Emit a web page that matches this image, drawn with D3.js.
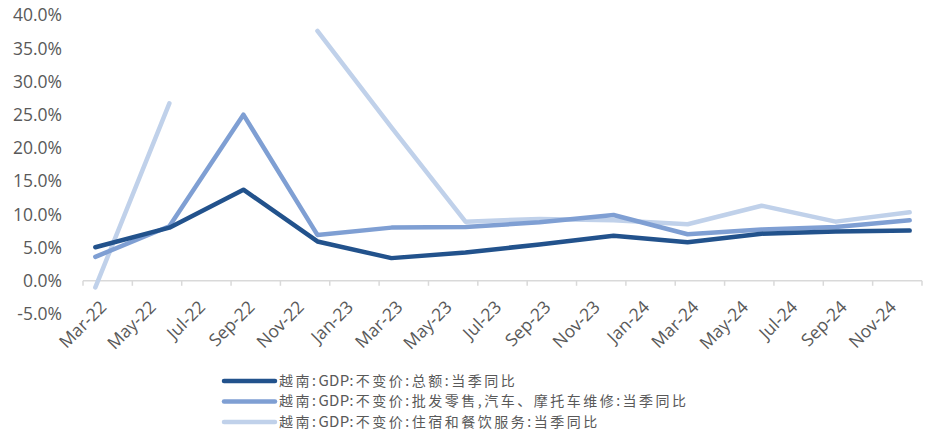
<!DOCTYPE html>
<html lang="zh">
<head>
<meta charset="utf-8">
<title>越南GDP当季同比</title>
<script src="https://d3js.org/d3.v7.min.js"></script>
<style>
  body { margin: 0; background: #fff; }
  svg text { fill: #595959; }
</style>
</head>
<body>
<div id="chart"></div>
<script>
// quarterly observations
const quarters = ["2022-03", "2022-06", "2022-09", "2022-12", "2023-03", "2023-06",
                  "2023-09", "2023-12", "2024-03", "2024-06", "2024-09", "2024-12"];
const seriesNames = [
  "越南:GDP:不变价:总额:当季同比",
  "越南:GDP:不变价:批发零售,汽车、摩托车维修:当季同比",
  "越南:GDP:不变价:住宿和餐饮服务:当季同比"
];
const gdpTotal = [5.05, 7.99, 13.71, 5.92, 3.41, 4.25, 5.47, 6.79, 5.80, 7.09, 7.43, 7.55];
const gdpTrade = [3.6, 8.2, 25.0, 6.9, 8.0, 8.1, 8.8, 9.9, 7.0, 7.7, 8.1, 9.1];
const gdpHotel = [-1.0, 26.7, null, 37.6, 23.1, 8.9, 9.3, 9.1, 8.5, 11.3, 8.9, 10.3];
const yTicks = [-5, 0, 5, 10, 15, 20, 25, 30, 35, 40];
const monthLabels = ["Mar-22", "May-22", "Jul-22", "Sep-22", "Nov-22", "Jan-23", "Mar-23", "May-23",
                     "Jul-23", "Sep-23", "Nov-23", "Jan-24", "Mar-24", "May-24", "Jul-24", "Sep-24", "Nov-24"];
const colors = ["#22528c", "#7f9fd3", "#c0d1ea"];

const width = 930, height = 434;
const x0 = 83, x1 = 922, yTop = 15, yBottom = 314;

const svg = d3.select("#chart").append("svg")
  .attr("width", width).attr("height", height);

// month index: Mar-22 = 0 ... Dec-24 = 33, axis covers 34 months
const monthIdx = s => {
  const [yy, mm] = s.split("-").map(Number);
  return (yy - 2022) * 12 + (mm - 3);
};
const x = d3.scaleLinear().domain([0, 34]).range([x0, x1]);
const y = d3.scaleLinear().domain([-5, 40]).range([yBottom, yTop]);

const font = "'Open Sans', sans-serif";

// y labels
svg.append("g")
  .selectAll("text")
  .data(yTicks)
  .join("text")
  .attr("x", 62)
  .attr("y", d => y(d))
  .attr("dy", "0.36em")
  .attr("text-anchor", "end")
  .style("font-family", font)
  .style("font-size", "17.5px")
  .text(d => d.toFixed(1) + "%");

// x axis line at 0%
const axisG = svg.append("g");
axisG.append("line")
  .attr("x1", x0).attr("x2", x1)
  .attr("y1", y(0)).attr("y2", y(0))
  .attr("stroke", "#d9d9d9").attr("stroke-width", 1.5);
axisG.selectAll("line.tick")
  .data(d3.range(0, 35, 2))
  .join("line")
  .attr("class", "tick")
  .attr("x1", d => x(d)).attr("x2", d => x(d))
  .attr("y1", y(0)).attr("y2", y(0) + 5)
  .attr("stroke", "#d9d9d9").attr("stroke-width", 1.5);

axisG.selectAll("text")
  .data(monthLabels)
  .join("text")
  .attr("text-anchor", "end")
  .attr("transform", (d, i) => `translate(${x(i * 2 + 0.5) + 8},${y(0) + 23}) rotate(-45)`)
  .attr("dy", "0.35em")
  .style("font-family", font)
  .style("font-size", "17.5px")
  .text(d => d);

// lines
const allSeries = [gdpTotal, gdpTrade, gdpHotel];
const line = d3.line()
  .defined(d => d.v !== null)
  .x(d => x(monthIdx(d.q) + 0.5))
  .y(d => y(d.v));

// draw light first so dark sits on top
[2, 1, 0].forEach(k => {
  const pts = quarters.map((q, i) => ({ q, v: allSeries[k][i] }));
  svg.append("path")
    .datum(pts)
    .attr("fill", "none")
    .attr("stroke", colors[k])
    .attr("stroke-width", 4.5)
    .attr("stroke-linejoin", "round")
    .attr("stroke-linecap", "round")
    .attr("d", line);
});

// legend
const legend = svg.append("g");
seriesNames.forEach((name, i) => {
  const ly = 381 + i * 20.5;
  legend.append("line")
    .attr("x1", 224).attr("x2", 275)
    .attr("y1", ly).attr("y2", ly)
    .attr("stroke", colors[i]).attr("stroke-width", 4.5)
    .attr("stroke-linecap", "round");
  const t = legend.append("text")
    .attr("x", 279).attr("y", ly)
    .attr("dy", "0.35em")
    .style("font-family", "'Noto Sans CJK SC', sans-serif")
    .style("font-size", "14px");
  // latin runs unspaced, cjk runs spaced wider like the original font
  name.split(/([A-Za-z]+)/).filter(s => s).forEach(part => {
    const latin = /^[A-Za-z]+$/.test(part);
    t.append("tspan")
      .style("letter-spacing", latin ? "0.3px" : "2.5px")
      .style("font-size", latin ? "15px" : "14px")
      .text(part);
  });
});
</script>
</body>
</html>
